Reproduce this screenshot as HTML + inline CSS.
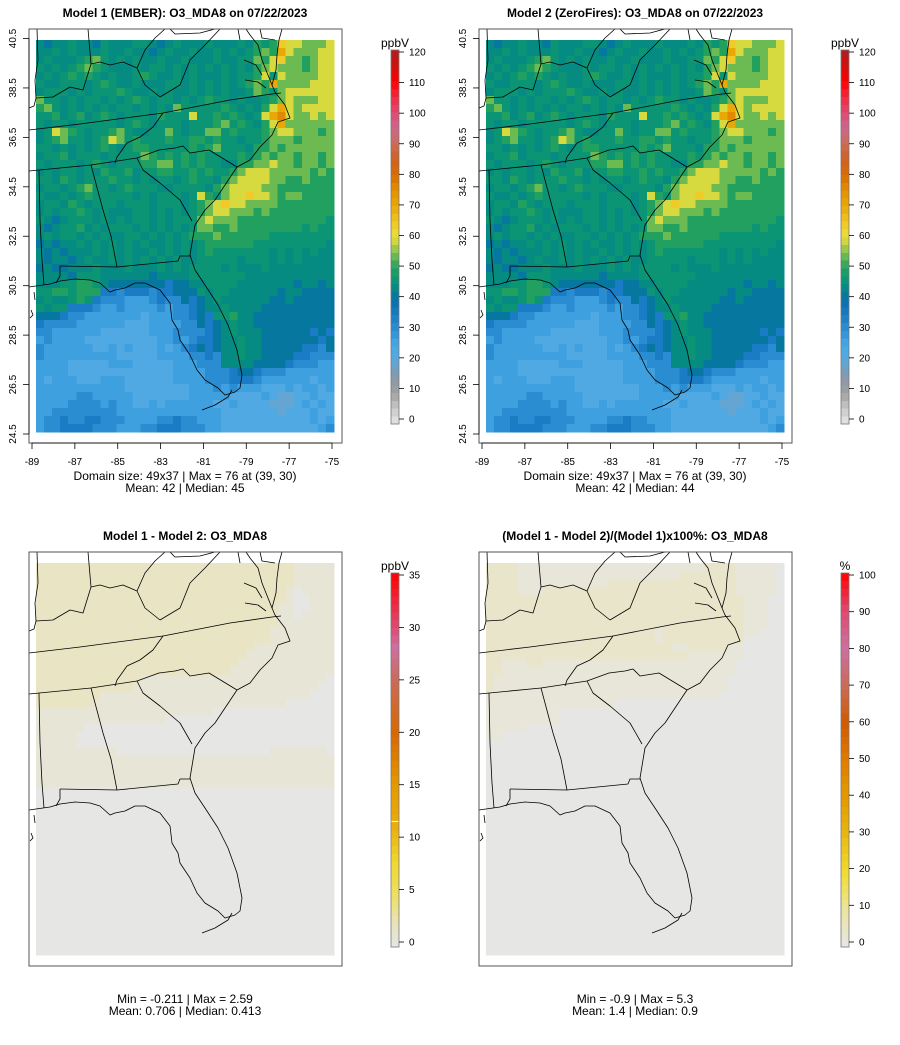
<!DOCTYPE html>
<html><head><meta charset="utf-8"><style>
body{margin:0;background:#fff}
svg{display:block;font-family:"Liberation Sans",sans-serif}
</style></head><body>
<svg id="chart" width="900" height="1045" viewBox="0 0 900 1045" xmlns="http://www.w3.org/2000/svg"></svg>
<script>
// ---- DATA (each char = one grid cell, 37 cols x 49 rows, north to south) ----
const levelChars = "qlmbdktgGhyoOr";
const levelValues = [19,23,27,31,35,41,44,46,50,54,59,64,70,76];
const model1Rows = [
"tkttgttkgtttggtktgtttgtttgtGgGoyyhhhy",
"ttgtgtttgttgttktgttgttgtgtgGhGOyhhhyy",
"tgtttgGhgtgtgttgttgtttgttgghGyohhGhyy",
"gtgtgGhGgtttgtggtgtgtgtgtgtGhyhhhGhyy",
"tgtgGgGgtgttgGgttgtgtttgtggGygyhhhhyy",
"gttgggtgGgttgtttggtgtgtgtgGhGOhhhhyyy",
"tgggtgtgggGgttgtgttgtgtgttghGghyyyyyy",
"hggtgtggtgtgGgtggtgtgGggtgttgGhyhhhyy",
"GhgtgtgtgtggtgtgthgggggGgtgtGyOyhyyyy",
"ggGtgGtgGgtgggtGgggyggGgGgtgyOryhhyhy",
"gtggtgggggtgGgtgggtgggGhgGgtGyOhhhhhh",
"tgyhGgtggGhgttgghgtgghhgGgggGhyyhhhGh",
"tgGhggtgGyhgGgggGggGGgGggtggGhhhGhhhh",
"ggtgtgtgGgtgGGgggggGgGhgggtGGhGhhhhhh",
"tggGtgggtgggghGgGgGgGggggGgGhGhhGhhGh",
"gtgggtgGgtgggGGhhgGgGggttGGhhyhhGhhGh",
"tgtggtgtGggGtggGGggGgGggGhyyyhhhhhGhG",
"ggtGgtgggGggtgtggtgGggtGhyyyyhhGGhGGG",
"tggtgGhggtgGgggttggggtGhyyyyhhGGGGGGG",
"gttgtgGgggggtgtgggtgyGghyyoyyhGhhGGGG",
"tggtGgtgggtgggtgggtgGhyoyyhhhhGGGGGGG",
"tgtggGgtgtttggtgtgtgGhyyhhhGhGGGGGGGG",
"gtktgggtgtgtggtgtggghyhhhGGGGGGGGGGGg",
"tktggGtgtgggtgtgtgtghhGGhGGGGGGGGgGgg",
"tgtggtgtgttggtgtgtgGGGhGGGGGGgggggggg",
"ktkttgtgtgtgtgttgtgtgGGGGGGgggggggggt",
"tktktttgtgtgttgtgtgtgGgggggggtgtgtgtt",
"tkttktgttgtgtgtgtgttgggggtgggtgtgtttt",
"ktkktttgtttgtttgtgtggggtgtttgtttttttt",
"ttttkgggttttttkttttgggggggttttttttttt",
"tttggGGgtkkkkkkkdkkttggggtttttttkttkt",
"ggGGgGGGddbdddbddkkkgtggttttttkttkkkk",
"tgttgGgdbbbmmmbdbbkdktgttttttkktkkkkk",
"gtggdddbmmbmmmmbmbbdkttgttttkkkkkkkkk",
"kkkdbbmmmmmmmlmmmbbdkdggGttkkkkkkkkkk",
"dbbbbmmmmmmlllmmmmbbkdktgttkkkkkkkkkk",
"bbmmmmmmllllllmmmbbbbdktgtttkkkkkkdkd",
"mbmmmmlllllllllmmbmbddkttgttkkkkkkkdk",
"bmmmmmmllmlmlllmlmbdkdkttgttkkkkkddbk",
"bmmmmmmmmmlllllmmmmbbdbttgttkkkkddbbb",
"mmmmlllllmmmlllllmmmbbbttttkkkkdbbbmm",
"mmmmlllllllllllllmmmmbbbdkkdbbbmmmmmm",
"mlmmmlllmmmllllllmmmmbbbdddbmmmmmmlmm",
"mmmmmmmmmmmllllllllmmmbmbmmmlllmlmmlm",
"mmmmmbbmmmmmlllllllmmmmmllllmlqqllmll",
"mmmmbbbbmbmmllmlmmmmmmllmllllqqqlmlml",
"mmbbbbbbbbmmmmmmmmmmmmmlllllllqlllmll",
"mbbdbbddbbbmmmmbbdbbmmmlllllllllllmlm",
"mbbddddbbbmmmbbdddbbbmmllllllllllllmb"];
const model2Rows = [
"tkttgttkgtttggtktgtttgtttgtGgGoyyhhhy",
"ttgtgtttgttgttktgttgttgtgtgGhGOyhhhyy",
"tgtttgGhgtgtgttgttgtttgttgghGyohhGhyy",
"gtgtgGhGgtttgtggtgtgtgtgtgtGhyhhhGhyy",
"tgtgGgGgtgttgGgttgtgtttgtggGygyhhhhyy",
"gttgggtgGgttgtttggtgtgtgtgGhGOhhhhyyy",
"tgggtgtgggGgttgtgttgtgtgttghGghyyyyyy",
"hggtgtggtgtgGgtggtgtgGggtgttgGhyhhhyy",
"GhgtgtgtgtggtgtgthgggggGgtgtGyOyhyyyy",
"ggGtgGtgGgtgggtGgggyggGgGgtgyOryhhyhy",
"gtggtgggggtgGgtgggtgggGhgGgtGyOhhhhhh",
"tgyhGgtggGhgttgghgtgghhgGgggGhyyhhhGh",
"tgGhggtgGyhgGgggGggGGgGggtggGhhhGhhhh",
"ggtgtgtgGgtgGGgggggGgGhgggtGGhGhhhhhh",
"tggGtgggtgggghGgGgGgGggggGgGhGhhGhhGh",
"gtgggtgGgtgggGGhhgGgGggttGGhhyhhGhhGh",
"tgtggtgtGggGtggGGggGgGggGhyyyhhhhhGhG",
"ggtGgtgggGggtgtggtgGggtGhyyyyhhGGhGGG",
"tggtgGhggtgGgggttggggtGhyyyyhhGGGGGGG",
"gttgtgGgggggtgtgggtgyGghyyoyyhGhhGGGG",
"tggtGgtgggtgggtgggtgGhyoyyhhhhGGGGGGG",
"tgtggGgtgtttggtgtgtgGhyyhhhGhGGGGGGGG",
"gtktgggtgtgtggtgtggghyhhhGGGGGGGGGGGg",
"tktggGtgtgggtgtgtgtghhGGhGGGGGGGGgGgg",
"tgtggtgtgttggtgtgtgGGGhGGGGGGgggggggg",
"ktkttgtgtgtgtgttgtgtgGGGGGGgggggggggt",
"tktktttgtgtgttgtgtgtgGgggggggtgtgtgtt",
"tkttktgttgtgtgtgtgttgggggtgggtgtgtttt",
"ktkktttgtttgtttgtgtggggtgtttgtttttttt",
"ttttkgggttttttkttttgggggggttttttttttt",
"tttggGGgtkkkkkkkdkkttggggtttttttkttkt",
"ggGGgGGGddbdddbddkkkgtggttttttkttkkkk",
"tgttgGgdbbbmmmbdbbkdktgttttttkktkkkkk",
"gtggdddbmmbmmmmbmbbdkttgttttkkkkkkkkk",
"kkkdbbmmmmmmmlmmmbbdkdggGttkkkkkkkkkk",
"dbbbbmmmmmmlllmmmmbbkdktgttkkkkkkkkkk",
"bbmmmmmmllllllmmmbbbbdktgtttkkkkkkdkd",
"mbmmmmlllllllllmmbmbddkttgttkkkkkkkdk",
"bmmmmmmllmlmlllmlmbdkdkttgttkkkkkddbk",
"bmmmmmmmmmlllllmmmmbbdbttgttkkkkddbbb",
"mmmmlllllmmmlllllmmmbbbttttkkkkdbbbmm",
"mmmmlllllllllllllmmmmbbbdkkdbbbmmmmmm",
"mlmmmlllmmmllllllmmmmbbbdddbmmmmmmlmm",
"mmmmmmmmmmmllllllllmmmbmbmmmlllmlmmlm",
"mmmmmbbmmmmmlllllllmmmmmllllmlqqllmll",
"mmmmbbbbmbmmllmlmmmmmmllmllllqqqlmlml",
"mmbbbbbbbbmmmmmmmmmmmmmlllllllqlllmll",
"mbbdbbddbbbmmmmbbdbbmmmlllllllllllmlm",
"mbbddddbbbmmmbbdddbbbmmllllllllllllmb"];
const diffChars = "012";
const diffValues = [0.05, 0.9, 1.8];
const diffRows = [
"2222222222222222222222222222222211111",
"2222222222222222222222222222222211111",
"2222222222222222222222222222222211111",
"2222222222222222222222222222222101111",
"2222222222222222222222222222222100111",
"2222222222222222222222222222221100111",
"2222222222222222222222222222221101111",
"2222222222222222222222222222221111111",
"2222222222222222222222222222211111111",
"2222222222222222222222222222211111111",
"2222222222222222222222222221111111111",
"2222222222222222222222222211111111111",
"2222222222222222222222222111111111111",
"2222222222222222222222221111111111111",
"2222222222222111111111111111111111110",
"2222222222221111111111111111111111100",
"2222222211111111111111111111111111000",
"2222222111111111111111111111111000000",
"1111111111111111111111000000000000000",
"1111111111111111000000000000000000000",
"1111110000000000000000000000000000000",
"1111100000000000000000000000000000000",
"1111100000000000000000000000000000000",
"1111111111000000000000000000011111110",
"1111111111111111111111111111111111111",
"1111111111111111111111111111111111111",
"1111111111111111111111111111111111111",
"1111111111111111111111111111111111111",
"0000000000000000000000000000000000000",
"0000000000000000000000000000000000000",
"0000000000000000000000000000000000000",
"0000000000000000000000000000000000000",
"0000000000000000000000000000000000000",
"0000000000000000000000000000000000000",
"0000000000000000000000000000000000000",
"0000000000000000000000000000000000000",
"0000000000000000000000000000000000000",
"0000000000000000000000000000000000000",
"0000000000000000000000000000000000000",
"0000000000000000000000000000000000000",
"0000000000000000000000000000000000000",
"0000000000000000000000000000000000000",
"0000000000000000000000000000000000000",
"0000000000000000000000000000000000000",
"0000000000000000000000000000000000000",
"0000000000000000000000000000000000000",
"0000000000000000000000000000000000000",
"0000000000000000000000000000000000000",
"0000000000000000000000000000000000000"];
const pctChars = "012";
const pctValues = [0.1, 2, 4];
const pctRows = [
"2222111111111111111111111112222111110",
"2222111111111111111111112222222111110",
"2222111111111112222222222222222111110",
"2222111222222222222222222222222111110",
"2222222222222222222222222222222211100",
"2222222222222222222222222222222211100",
"2222222222222222222222222222222211100",
"2222222222222222222222222222222211100",
"2222222222222222222221222222222211000",
"2222222222222222222221222222222200000",
"2222222222222222222222211222221100000",
"2222222222222222222222222111111100000",
"2211122111111111111111111111111000000",
"2211111111111111111111111111111000000",
"2111111111111111111111111111110000000",
"2111111111111111111111111111110000000",
"1111111111111111111111111111100000000",
"1111111111111111000000000000000000000",
"1111111110000000000000000000000000000",
"1111111110000000000000000000000000000",
"1111100000000000000000000000000000000",
"1100000000000000000000000000000000000",
"0000000000000000000000000000000000000",
"0000000000000000000000000000000000000",
"0000000000000000000000000000000000000",
"0000000000000000000000000000000000000",
"0000000000000000000000000000000000000",
"0000000000000000000000000000000000000",
"0000000000000000000000000000000000000",
"0000000000000000000000000000000000000",
"0000000000000000000000000000000000000",
"0000000000000000000000000000000000000",
"0000000000000000000000000000000000000",
"0000000000000000000000000000000000000",
"0000000000000000000000000000000000000",
"0000000000000000000000000000000000000",
"0000000000000000000000000000000000000",
"0000000000000000000000000000000000000",
"0000000000000000000000000000000000000",
"0000000000000000000000000000000000000",
"0000000000000000000000000000000000000",
"0000000000000000000000000000000000000",
"0000000000000000000000000000000000000",
"0000000000000000000000000000000000000",
"0000000000000000000000000000000000000",
"0000000000000000000000000000000000000",
"0000000000000000000000000000000000000",
"0000000000000000000000000000000000000",
"0000000000000000000000000000000000000"];
const lonTicks = [-89,-87,-85,-83,-81,-79,-77,-75];
const latTicks = [24.5,26.5,28.5,30.5,32.5,34.5,36.5,38.5,40.5];
const ozoneTicks = [0,10,20,30,40,50,60,70,80,90,100,110,120];
const diffTicks = [0,5,10,15,20,25,30,35];
const pctTicks = [0,10,20,30,40,50,60,70,80,90,100];

// ---- colour scales ----
const ozoneStops=[[0,"#e6e6e6"],[5,"#c8c8c8"],[10,"#a0a0a0"],[15,"#8a98a8"],[20,"#5aa8dc"],[25,"#4aaae6"],[30,"#2e90d4"],[35,"#1a7cc4"],[40,"#0670a8"],[45,"#06927a"],[50,"#22a060"],[55,"#7ec04e"],[60,"#ece03a"],[65,"#f0c424"],[70,"#e8a806"],[75,"#e49000"],[80,"#d86c00"],[85,"#d06020"],[90,"#cc6a58"],[95,"#cc6890"],[100,"#e04870"],[105,"#f02a40"],[110,"#ff0000"],[115,"#d01010"],[120,"#a82020"]];
const diffStops=[[0,"#e6e6e6"],[2,"#e8e4c0"],[5,"#eedf60"],[8,"#f0d830"],[11,"#e8b010"],[15,"#e49a00"],[20,"#d86800"],[25,"#cc6a58"],[28,"#cc70a0"],[30,"#e04870"],[35,"#ff0000"]];
const pctStops=[[0,"#e6e6e6"],[10,"#ece4a0"],[20,"#f0dc30"],[30,"#e8b810"],[40,"#e49a00"],[50,"#e07c00"],[60,"#d05a00"],[70,"#cc6a58"],[80,"#cc70a0"],[90,"#e04870"],[100,"#ff0000"]];
function hex(c){return [1,3,5].map(i=>parseInt(c.substr(i,2),16));}
function colorOf(v,stops){
  if(v<=stops[0][0])return stops[0][1];
  for(let k=1;k<stops.length;k++){
    if(v<=stops[k][0]){const a=stops[k-1],b=stops[k];const t=(v-a[0])/(b[0]-a[0]);
      const A=hex(a[1]),B=hex(b[1]);return "rgb("+A.map((x,i)=>Math.round(x+(B[i]-x)*t)).join(",")+")";}
  }
  return stops[stops.length-1][1];
}
const NS="http://www.w3.org/2000/svg";
const svg=document.getElementById('chart');
function mk(tag,attrs,parent,text){const e=document.createElementNS(NS,tag);for(const k in attrs)e.setAttribute(k,attrs[k]);if(text!==undefined)e.textContent=text;(parent||svg).appendChild(e);return e;}

const MAPX0=36,MAPX1=334,MAPY0=40,NCOL=37,NROW=49,CELLH=8;
const xLon=lon=>32+(lon+89)*(300/14);
const yLat=lat=>38.5+(40.5-lat)*(395.5/16);

const borders=[
 [[29,130],[80,124],[163,113],[230,100],[272,94],[281,93]],
 [[29,171],[91,165],[137,158]],
 [[137,158],[159,150],[175,148],[183,146],[190,153],[209,150],[237,167]],
 [[137,158],[143,170],[160,183],[180,200],[192,221]],
 [[91,165],[103,210],[111,236],[117,267]],
 [[39,170],[40,220],[42,260],[44,285]],
 [[60,266],[117,267],[178,261],[180,256],[190,256]],
 [[60,266],[60,276],[56,283]],
 [[163,113],[153,127],[140,137],[127,143],[117,157],[115,163]],
 [[36,98],[53,97],[70,87],[83,90],[91,64],[100,62],[110,65],[123,62],[137,68],[145,85],[160,97]],
 [[160,97],[180,85],[190,60],[205,45],[220,29]],
 [[137,68],[145,50],[155,38],[165,29]],
 [[37,29],[38,60],[35,80],[36,98]],
 [[29,108],[34,106],[36,98]],
 [[88,29],[91,64]],
 [[170,29],[175,34],[200,33],[215,29]],
 [[238,29],[240,40]],
 [[260,29],[262,38],[275,40]]
];
const coasts=[
 [[29,287],[36,286],[50,284],[60,281],[75,279],[90,280],[100,283],[110,292],[115,290],[125,288],[135,283],[145,283],[160,290],[170,303],[172,320],[178,330],[180,340],[190,355],[197,370],[205,380],[218,388],[225,395],[235,392],[240,388],[242,375],[237,350],[228,325],[218,305],[205,285],[195,270],[190,255],[195,225],[205,210],[215,200],[225,185],[237,167],[250,160],[260,147],[272,135],[278,122],[290,118],[285,105],[275,92],[272,85],[268,75],[262,60],[258,45],[250,35],[246,29]],
 [[282,29],[279,40],[277,55],[276,70],[272,85]],
 [[245,80],[258,82],[266,88]],
 [[244,60],[256,65],[262,75]],
 [[202,410],[215,405],[228,397],[232,390]],
 [[31,310],[33,315],[30,318]],
 [[34,292],[35,300]]
];

const panels=[
 {dx:0,dy:0,rows:model1Rows,chars:levelChars,vals:levelValues,stops:ozoneStops,ticks:ozoneTicks,max:120,unit:"ppbV",axes:true,
  title:"Model 1 (EMBER): O3_MDA8 on 07/22/2023",l1:"Domain size: 49x37 | Max = 76 at (39, 30)",l2:"Mean: 42 |  Median: 45",ty:480,name:"model1"},
 {dx:450,dy:0,rows:model2Rows,chars:levelChars,vals:levelValues,stops:ozoneStops,ticks:ozoneTicks,max:120,unit:"ppbV",axes:true,
  title:"Model 2 (ZeroFires): O3_MDA8 on 07/22/2023",l1:"Domain size: 49x37 | Max = 76 at (39, 30)",l2:"Mean: 42 |  Median: 44",ty:480,name:"model2"},
 {dx:0,dy:523,rows:diffRows,chars:diffChars,vals:diffValues,stops:diffStops,ticks:diffTicks,max:35,unit:"ppbV",axes:false,whiteLine:11.5,
  title:"Model 1 - Model 2: O3_MDA8",l1:"Min = -0.211 | Max = 2.59",l2:"Mean: 0.706 |  Median: 0.413",ty:1003-523,name:"difference"},
 {dx:450,dy:523,rows:pctRows,chars:pctChars,vals:pctValues,stops:pctStops,ticks:pctTicks,max:100,unit:"%",axes:false,
  title:"(Model 1 - Model 2)/(Model 1)x100%: O3_MDA8",l1:"Min = -0.9 | Max = 5.3",l2:"Mean: 1.4 |  Median: 0.9",ty:1003-523,name:"percent-difference"}
];

panels.forEach((p,pi)=>{
  const g=mk('g',{transform:`translate(${p.dx},${p.dy})`});
  
  
  const t=mk('text',{x:185,y:17,'text-anchor':'middle','font-size':12,'font-weight':'bold'},g,p.title);
  
  
  const cid='clip'+pi;
  const cp=mk('clipPath',{id:cid},g);mk('rect',{x:29,y:29,width:313,height:414},cp);
  const cells=mk('g',{'shape-rendering':'crispEdges'},g);
  
  
  const cw=(MAPX1-MAPX0)/NCOL;
  p.rows.forEach((row,j)=>{
    for(let i=0;i<row.length;i++){
      const v=p.vals[p.chars.indexOf(row[i])];
      const r=mk('rect',{x:(MAPX0+i*cw).toFixed(2),y:MAPY0+j*CELLH,width:(cw+0.4).toFixed(2),height:CELLH+0.4,fill:colorOf(v,p.stops)},cells);
      
      
    }
  });
  const lines=mk('g',{'clip-path':`url(#${cid})`,fill:'none',stroke:'#000','stroke-width':0.8,'stroke-linejoin':'round'},g);
  
  
  borders.concat(coasts).forEach(pl=>{mk('polyline',{points:pl.map(q=>q.join(',')).join(' ')},lines);});
  const box=mk('rect',{x:29,y:29,width:313,height:414,fill:'none',stroke:'#555','stroke-width':1},g);
  
  
  if(p.axes){
    const ax=mk('g',{stroke:'#000','stroke-width':0.8},g);
    
    
    mk('line',{x1:xLon(lonTicks[0]),x2:xLon(lonTicks[lonTicks.length-1]),y1:443,y2:443},ax);
    lonTicks.forEach(l=>{const x=xLon(l);mk('line',{x1:x,x2:x,y1:443,y2:449},ax);
      const tl=mk('text',{x:x,y:465,'text-anchor':'middle','font-size':10,stroke:'none',fill:'#000'},ax,String(l));
      
      });
    const ay=mk('g',{stroke:'#000','stroke-width':0.8},g);
    
    
    mk('line',{x1:29,x2:29,y1:yLat(latTicks[0]),y2:yLat(latTicks[latTicks.length-1])},ay);
    latTicks.forEach(l=>{const y=yLat(l);mk('line',{x1:23,x2:29,y1:y,y2:y},ay);
      const tl=mk('text',{x:16,y:y,'text-anchor':'middle','font-size':10,stroke:'none',fill:'#000',transform:`rotate(-90 16 ${y})`},ay,l.toFixed(1));
      
      });
  }
  const s1=mk('text',{x:185,y:p.ty,'text-anchor':'middle','font-size':12},g,p.l1);
  
  
  const s2=mk('text',{x:185,y:p.ty+12,'text-anchor':'middle','font-size':12},g,p.l2);
  
  
  const cb=mk('g',{},g);
  
  
  const cy0=50,cy1=424,ty0=419,ty1=52;
  const nSteps=48;
  for(let k=0;k<nSteps;k++){
    const v=(k+0.5)/nSteps*p.max;
    const ya=cy1-(k+1)*(cy1-cy0)/nSteps, yb=cy1-k*(cy1-cy0)/nSteps;
    mk('rect',{x:391,y:ya.toFixed(2),width:8,height:(yb-ya+0.3).toFixed(2),fill:colorOf(v,p.stops),'shape-rendering':'crispEdges'},cb);
  }
  if(p.whiteLine!==undefined){const y=ty0-(p.whiteLine/p.max)*(ty0-ty1);mk('line',{x1:391,x2:399,y1:y,y2:y,stroke:'#fff','stroke-width':1},cb);}
  mk('rect',{x:391,y:cy0,width:8,height:cy1-cy0,fill:'none',stroke:'#777','stroke-width':0.8},cb);
  p.ticks.forEach(v=>{const y=ty0-(v/p.max)*(ty0-ty1);
    mk('line',{x1:399,x2:404,y1:y,y2:y,stroke:'#000','stroke-width':0.8},cb);
    const tl=mk('text',{x:409,y:y+3.5,'font-size':10},cb,String(v));
    
    });
  const u=mk('text',{x:395,y:47,'text-anchor':'middle','font-size':12},cb,p.unit);
  
  
});
</script>
</body></html>
